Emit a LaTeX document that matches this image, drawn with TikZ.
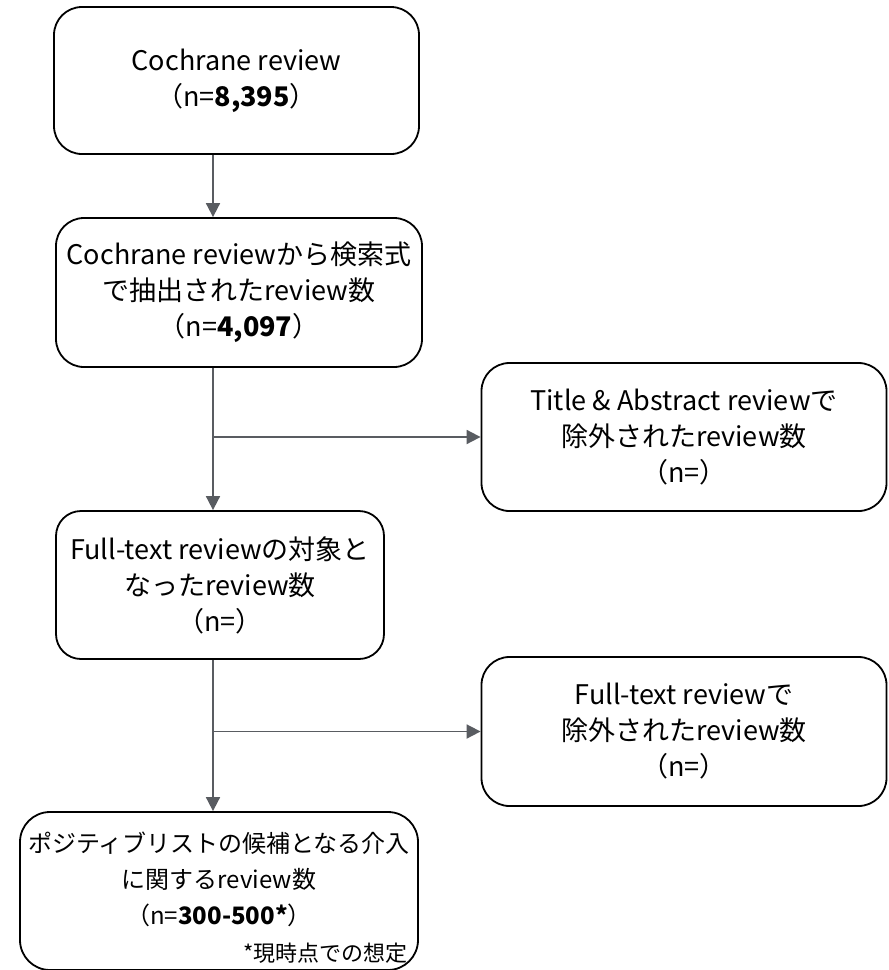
\documentclass[tikz,border=0pt]{standalone}
\usepackage{fontspec}
\setmainfont{Noto Sans CJK JP}
\usetikzlibrary{arrows.meta}
\definecolor{arrowgray}{HTML}{595C61}
\begin{document}
\begin{tikzpicture}[x=1pt,y=-1pt,
  box/.style={draw=black, line width=1.8pt, rounded corners=28pt, align=center,
    font=\fontsize{27}{36}\selectfont, inner sep=0pt},
  conn/.style={draw=arrowgray, line width=1.8pt, -{Triangle[length=14pt,width=14pt]}}]
\useasboundingbox (0,0) rectangle (889,970);
\node[box, minimum width=365pt, minimum height=147pt] (b1) at (236.5,80.5)
  {Cochrane review\\（n=\textbf{8,395}）};
\node[box, minimum width=366pt, minimum height=149pt] (b2) at (239,292.5)
  {Cochrane reviewから検索式\\で抽出されたreview数\\（n=\textbf{4,097}）};
\node[box, minimum width=328pt, minimum height=148pt, rounded corners=25pt] (b3) at (220,585)
  {Full-text reviewの対象と\\なったreview数\\（n=）};
\node[box, minimum width=398pt, minimum height=158pt, rounded corners=30pt] (b4) at (219,891) {};
\node[align=center, font=\fontsize{24}{36}\selectfont, inner sep=0pt] (b4text) at (219,879)
  {ポジティブリストの候補となる介入\\に関するreview数\\（n=\textbf{300-500*}）};
\node[font=\fontsize{22}{24}\selectfont, inner sep=0pt, anchor=base east] (note) at (408,961)
  {*現時点での想定};
\node[box, minimum width=405pt, minimum height=148pt] (r1) at (684,437)
  {Title \& Abstract reviewで\\除外されたreview数\\（n=）};
\node[box, minimum width=405pt, minimum height=149pt] (r2) at (684,731.5)
  {Full-text reviewで\\除外されたreview数\\（n=）};
\coordinate (ax) at (213,0);
\draw[conn] (b1.south -| ax) -- (b2.north -| ax);
\draw[conn] (b2.south -| ax) -- (b3.north -| ax);
\draw[conn] (ax |- r1.west) -- (r1.west);
\draw[conn] (b3.south -| ax) -- (b4.north -| ax);
\draw[conn] (ax |- r2.west) -- (r2.west);
\end{tikzpicture}
\end{document}
